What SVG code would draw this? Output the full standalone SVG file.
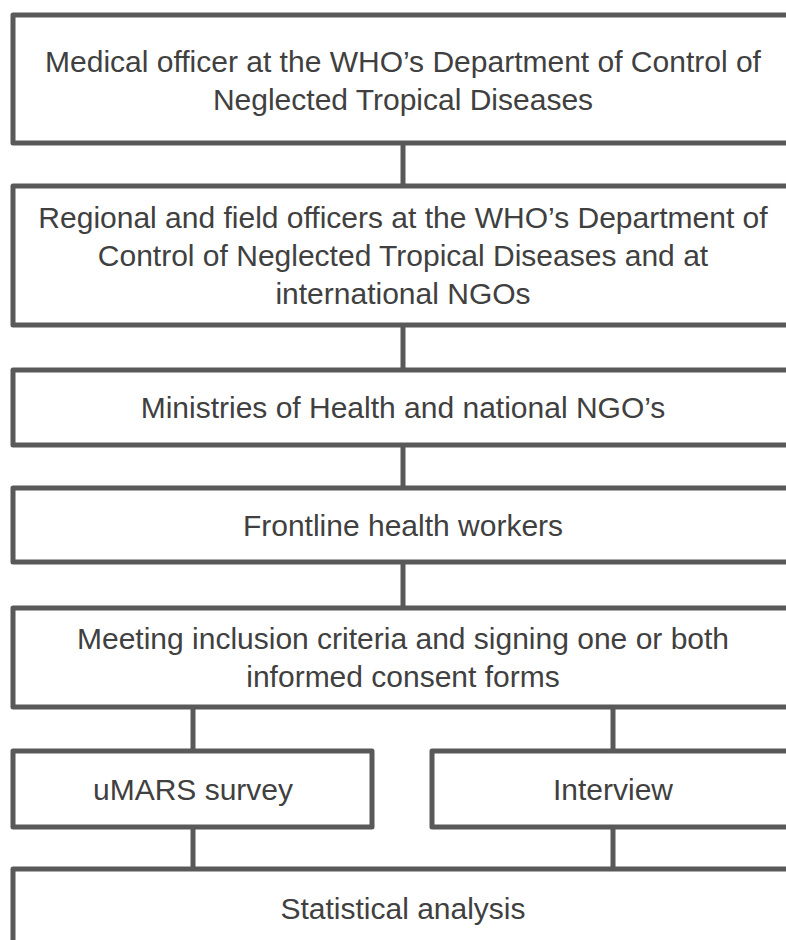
<svg xmlns="http://www.w3.org/2000/svg" width="786" height="940" viewBox="0 0 786 940">
<style>
.box{fill:#ffffff;stroke:#595959;stroke-width:5;stroke-linejoin:round}
.con{stroke:#595959;stroke-width:5;fill:none}
.t{font-family:"Liberation Sans",Arial,sans-serif;font-size:30px;fill:#404040;text-anchor:middle}
</style>
<rect width="786" height="940" fill="#ffffff"/>
<g id="connectors">
<line class="con" x1="403" y1="143" x2="403" y2="186"/>
<line class="con" x1="403" y1="325" x2="403" y2="370"/>
<line class="con" x1="403" y1="445" x2="403" y2="488"/>
<line class="con" x1="403" y1="562" x2="403" y2="608"/>
<line class="con" x1="193" y1="707" x2="193" y2="751"/>
<line class="con" x1="613" y1="707" x2="613" y2="751"/>
<line class="con" x1="193" y1="827" x2="193" y2="869"/>
<line class="con" x1="613" y1="827" x2="613" y2="869"/>
</g>
<g id="n1">
<rect class="box" x="13" y="15" width="780" height="128"/>
<text class="t" x="403" y="72">Medical officer at the WHO’s Department of Control of</text>
<text class="t" x="403" y="110">Neglected Tropical Diseases</text>
</g>
<g id="n2">
<rect class="box" x="13" y="186" width="780" height="139"/>
<text class="t" x="403" y="228">Regional and field officers at the WHO’s Department of</text>
<text class="t" x="403" y="266">Control of Neglected Tropical Diseases and at</text>
<text class="t" x="403" y="304">international NGOs</text>
</g>
<g id="n3">
<rect class="box" x="13" y="370" width="780" height="75"/>
<text class="t" x="403" y="418">Ministries of Health and national NGO’s</text>
</g>
<g id="n4">
<rect class="box" x="13" y="488" width="780" height="74"/>
<text class="t" x="403" y="536">Frontline health workers</text>
</g>
<g id="n5">
<rect class="box" x="13" y="608" width="780" height="99"/>
<text class="t" x="403" y="649">Meeting inclusion criteria and signing one or both</text>
<text class="t" x="403" y="687">informed consent forms</text>
</g>
<g id="n6">
<rect class="box" x="13" y="751" width="359" height="76"/>
<text class="t" x="193" y="800">uMARS survey</text>
</g>
<g id="n7">
<rect class="box" x="432" y="751" width="361" height="76"/>
<text class="t" x="613" y="800">Interview</text>
</g>
<g id="n8">
<rect class="box" x="13" y="869" width="780" height="100"/>
<text class="t" x="403" y="919">Statistical analysis</text>
</g>
</svg>
